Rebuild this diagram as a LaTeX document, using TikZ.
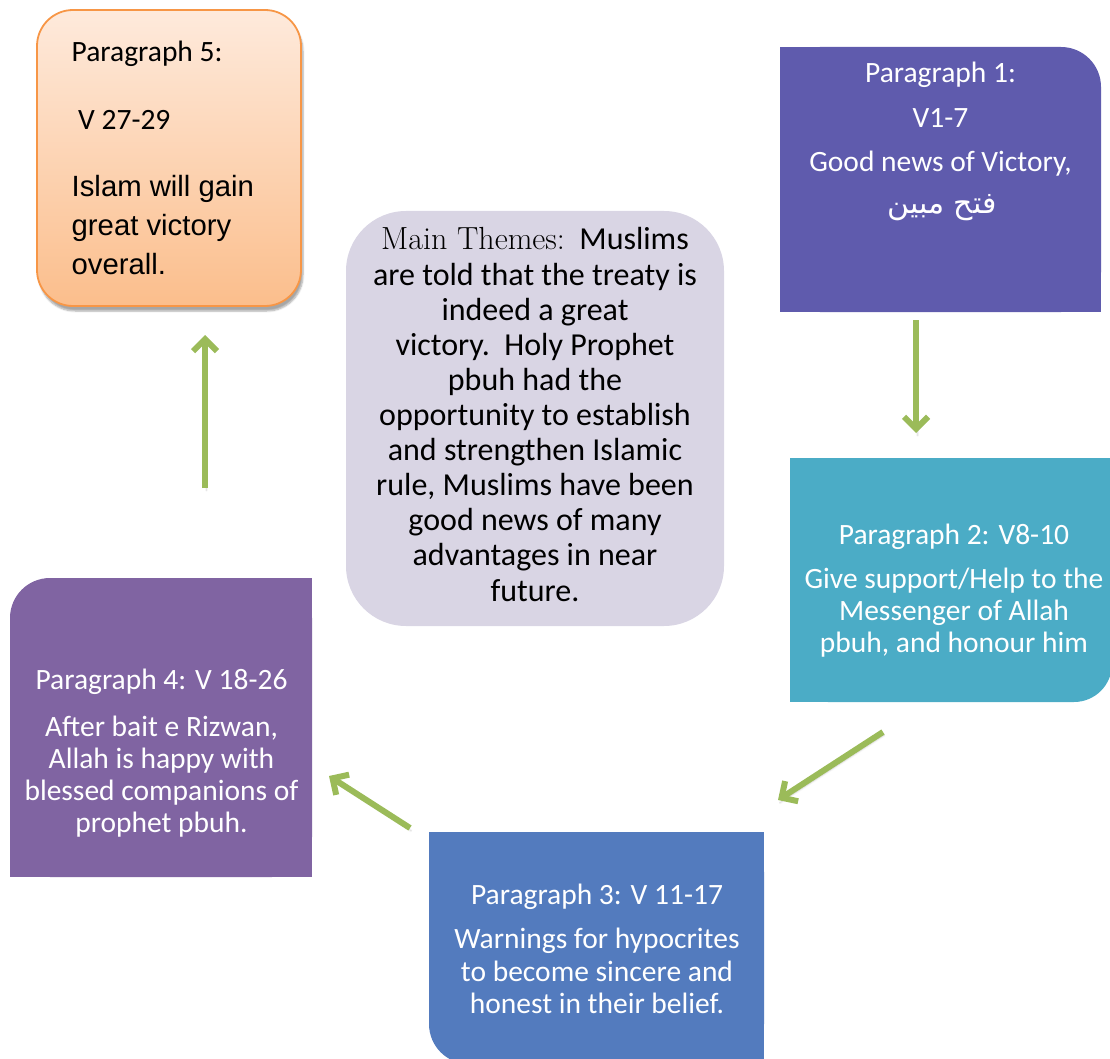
\documentclass[tikz,border=0pt]{standalone}
\usepackage{fontspec}
\usetikzlibrary{arrows.meta,shadows.blur}
\newfontfamily\calfont{Carlito}
\newfontfamily\arialfont{Liberation Sans}
\newfontfamily\arabicfont[Script=Arabic]{DejaVu Sans}
\TeXXeTstate=1
\definecolor{pone}{HTML}{5F5BAD}
\definecolor{ptwo}{HTML}{4BACC6}
\definecolor{pthree}{HTML}{537BBE}
\definecolor{pfour}{HTML}{8064A2}
\definecolor{mainfill}{HTML}{D9D5E4}
\definecolor{arrowgreen}{HTML}{9BBB59}
\definecolor{orangeline}{HTML}{F79646}
\definecolor{orangetop}{HTML}{FEEADC}
\definecolor{orangebot}{HTML}{FBBE8C}
\tikzset{
  boxnode/.style={inner sep=0pt, outer sep=0pt},
  wline/.style={font=\calfont\fontsize{29.5}{32}\selectfont, text=white, anchor=base, inner sep=0pt},
  bline/.style={font=\calfont\fontsize{29.5}{32}\selectfont, text=black, anchor=base west, inner sep=0pt},
  aline/.style={font=\arialfont\fontsize{29.3}{38}\selectfont, text=black, anchor=base west, inner sep=0pt},
  mline/.style={font=\calfont\fontsize{32}{35}\selectfont, text=black, anchor=base, inner sep=0pt},
  flow/.style={draw=arrowgreen, line width=6pt, -{Straight Barb[length=12pt,width=24pt]},
    blur shadow={shadow xshift=1.5pt, shadow yshift=-3pt, shadow blur steps=4, shadow opacity=20}}
}
\begin{document}
\begin{tikzpicture}[x=1pt,y=-1pt]
\useasboundingbox (0,0) rectangle (1110,1059);

% Paragraph 5 box
\node[boxnode, draw=orangeline, line width=1.8pt, rounded corners=36pt,
      top color=orangetop, bottom color=orangebot,
      minimum width=264pt, minimum height=296pt,
      blur shadow={shadow xshift=2pt, shadow yshift=-5pt, shadow blur steps=6, shadow opacity=35}]
      (p5) at (169,158) {};
\node[bline] (p5a) at (71.5,62) {Paragraph 5:};
\node[bline] (p5b) at (78,130) {V 27-29};
\node[aline] (p5c) at (71.5,197) {Islam will gain};
\node[aline] (p5d) at (71.5,235.5) {great victory};
\node[aline] (p5e) at (71.5,274) {overall.};

% Paragraph 1 box (top-right rounded)
\fill[pone, rounded corners=40pt] (780,47) rectangle (1101,312);
\fill[pone] (780,47) rectangle (1061,312);
\fill[pone] (780,87) rectangle (1101,312);
\node[boxnode, minimum width=321pt, minimum height=265pt] (p1) at (940.5,179.5) {};
\node[wline] (p1a) at (940.5,83) {Paragraph 1:};
\node[wline] (p1b) at (940.5,128) {V1-7};
\node[wline] (p1c) at (940.5,172) {Good news of Victory,};
\node[wline, font=\arabicfont\fontsize{30}{34}\selectfont] (p1d) at (942,214) {\beginR فتح مبين\endR};

% Main themes
\node[boxnode, fill=mainfill, rounded corners=60pt, minimum width=378pt, minimum height=415pt] (main) at (535,418.5) {};
\node[mline] (m1) at (535,250) {{\rmfamily Main Themes:}\ \ Muslims};
\node[mline] (m2) at (535,285.1) {are told that the treaty is};
\node[mline] (m3) at (535,320.2) {indeed a great};
\node[mline] (m4) at (535,355.3) {victory.\ \ Holy Prophet};
\node[mline] (m5) at (535,390.4) {pbuh had the};
\node[mline] (m6) at (535,425.5) {opportunity to establish};
\node[mline] (m7) at (535,460.6) {and strengthen Islamic};
\node[mline] (m8) at (535,495.7) {rule, Muslims have been};
\node[mline] (m9) at (535,530.8) {good news of many};
\node[mline] (m10) at (535,565.9) {advantages in near};
\node[mline] (m11) at (535,601) {future.};

% Paragraph 2 box (bottom-right rounded)
\fill[ptwo, rounded corners=38pt] (790,458) rectangle (1112,702);
\fill[ptwo] (790,458) rectangle (1074,702);
\fill[ptwo] (790,458) rectangle (1112,664);
\node[boxnode, minimum width=322pt, minimum height=244pt] (p2) at (951,580) {};
\node[wline] (p2a) at (954,544) {Paragraph 2: V8-10};
\node[wline] (p2b) at (954,588) {Give support/Help to the};
\node[wline] (p2c) at (954,620) {Messenger of Allah};
\node[wline] (p2d) at (954,652) {pbuh, and honour him};

% Paragraph 3 box (bottom-left rounded)
\fill[pthree, rounded corners=40pt] (429,832) rectangle (764,1064);
\fill[pthree] (469,832) rectangle (764,1064);
\fill[pthree] (429,832) rectangle (764,1024);
\node[boxnode, minimum width=335pt, minimum height=232pt] (p3) at (596.5,948) {};
\node[wline] (p3a) at (597,904) {Paragraph 3: V 11-17};
\node[wline] (p3b) at (597,948) {Warnings for hypocrites};
\node[wline] (p3c) at (597,981) {to become sincere and};
\node[wline] (p3d) at (597,1013) {honest in their belief.};

% Paragraph 4 box (top-left rounded)
\fill[pfour, rounded corners=40pt] (10,578) rectangle (312,877);
\fill[pfour] (50,578) rectangle (312,877);
\fill[pfour] (10,618) rectangle (312,877);
\node[boxnode, minimum width=302pt, minimum height=299pt] (p4) at (161,727.5) {};
\node[wline] (p4a) at (161.5,689) {Paragraph 4: V 18-26};
\node[wline] (p4b) at (161.5,736) {After bait e Rizwan,};
\node[wline] (p4c) at (161.5,768) {Allah is happy with};
\node[wline] (p4d) at (161.5,800) {blessed companions of};
\node[wline] (p4e) at (161.5,832) {prophet pbuh.};

% arrows
\coordinate (a1s) at (916,320);
\coordinate (a1e) at (916,433);
\coordinate (a2s) at (883,732);
\coordinate (a2e) at (778,800);
\coordinate (a3s) at (410,828);
\coordinate (a3e) at (329,776);
\coordinate (a4s) at (205,488);
\coordinate (a4e) at (205,335);
\draw[flow] (a1s) -- (a1e);
\draw[flow] (a2s) -- (a2e);
\draw[flow] (a3s) -- (a3e);
\draw[flow] (a4s) -- (a4e);
\end{tikzpicture}
\end{document}
